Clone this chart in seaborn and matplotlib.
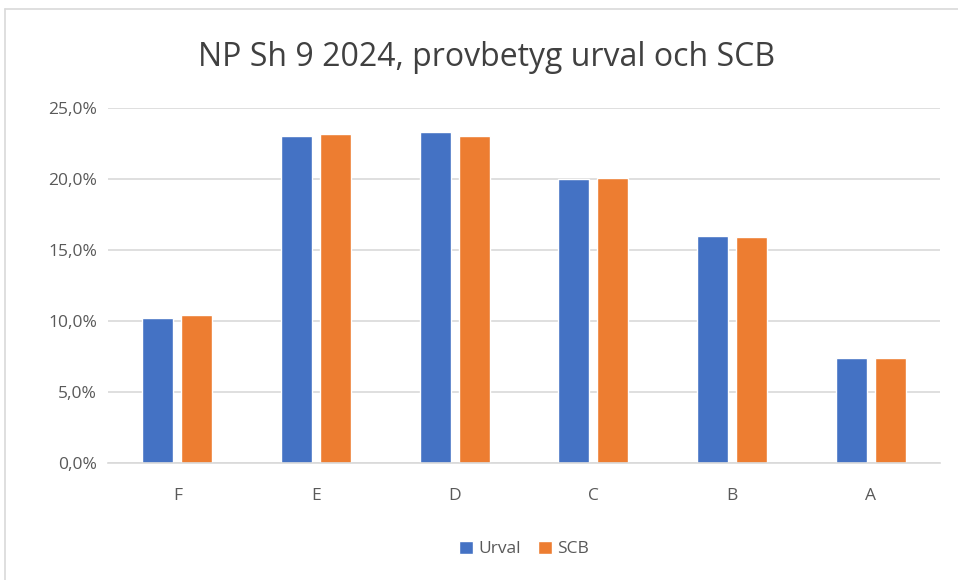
import pandas as pd
import seaborn as sns
import matplotlib.pyplot as plt
from matplotlib.lines import Line2D
from matplotlib.ticker import FuncFormatter

# Data
betyg = ['F', 'E', 'D', 'C', 'B', 'A']
urval = [10.2, 23.0, 23.3, 20.0, 16.0, 7.4]
scb = [10.4, 23.2, 23.0, 20.1, 15.9, 7.4]

df = pd.DataFrame({
    'betyg': betyg * 2,
    'andel': urval + scb,
    'serie': ['Urval'] * len(betyg) + ['SCB'] * len(betyg),
})

sns.set_style('white')
plt.rcParams['font.family'] = ['Open Sans', 'DejaVu Sans']

fig = plt.figure(figsize=(9.58, 5.8), dpi=100)
ax = fig.add_axes([0.1127, 0.2017, 0.8685, 0.6121])

sns.barplot(data=df, x='betyg', y='andel', hue='serie', order=betyg,
            hue_order=['Urval', 'SCB'], palette=['#4472C4', '#ED7D31'],
            saturation=1, width=0.56, gap=0.2, ax=ax, legend=True)

ax.set_ylim(0, 25)
ax.set_yticks([0, 5, 10, 15, 20, 25])
ax.yaxis.set_major_formatter(FuncFormatter(lambda v, p: f'{v:.1f}%'.replace('.', ',')))
ax.grid(axis='y', color='#D9D9D9', linewidth=1.2)
ax.set_axisbelow(True)
for s in ['top', 'right', 'left']:
    ax.spines[s].set_visible(False)
ax.spines['bottom'].set_color('#D9D9D9')
ax.spines['bottom'].set_linewidth(1.2)
ax.set_xlabel('')
ax.set_ylabel('')
ax.tick_params(axis='both', colors='#595959', labelsize=12.5, length=0)
ax.tick_params(axis='x', pad=18)
ax.tick_params(axis='y', pad=8)

# title is centred on the whole chart area, not the plot area
fig.text(0.508, 1 - 58 / 580, 'NP Sh 9 2024, provbetyg urval och SCB',
         fontsize=23, color='#404040', ha='center', va='center')

ax.legend(loc='upper center', bbox_to_anchor=(0.5, -0.175), ncol=2,
          frameon=False, fontsize=12.5, handlelength=0.8, handleheight=0.8,
          handletextpad=0.3, columnspacing=1.0, labelcolor='#595959')

# chart area border
fig.add_artist(Line2D([5 / 958, 5 / 958], [0, 1 - 9 / 580], color='#D9D9D9', lw=1.2))
fig.add_artist(Line2D([5 / 958, 1], [1 - 9 / 580, 1 - 9 / 580], color='#D9D9D9', lw=1.2))

fig.savefig('out.png', dpi=100)
